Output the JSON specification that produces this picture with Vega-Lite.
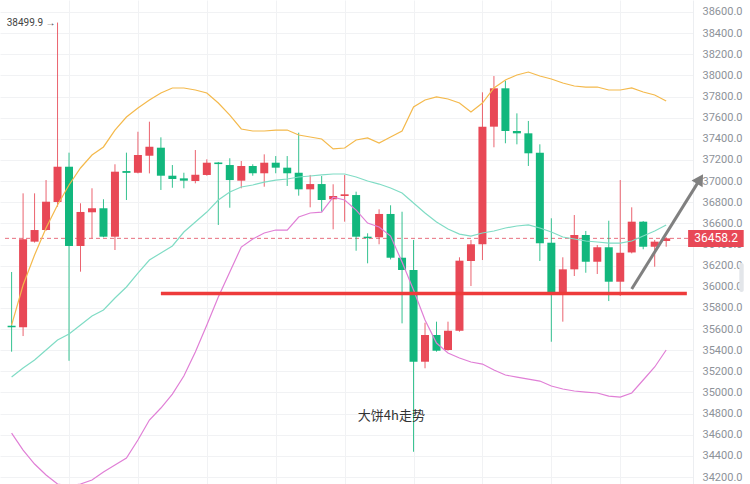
{
 "$schema": "https://vega.github.io/schema/vega-lite/v6.json",
 "width": 693,
 "height": 484,
 "padding": 0,
 "background": "white",
 "config": {"view": {"stroke": null}, "font": "Roboto"},
 "data": {"values": [
  {"i":0,"o":35632,"h":36140,"l":35386,"c":35617,"up":35638,"mid":35146,"lo":34616},
  {"i":1,"o":35617,"h":36884,"l":35534,"c":36449,"up":36017,"mid":35231,"lo":34455},
  {"i":2,"o":36427,"h":36884,"l":36418,"c":36537,"up":36301,"mid":35307,"lo":34323},
  {"i":3,"o":36537,"h":37010,"l":36530,"c":36805,"up":36556,"mid":35402,"lo":34219},
  {"i":4,"o":36802,"h":38499.9,"l":36758,"c":37136,"up":36774,"mid":35496,"lo":34134},
  {"i":5,"o":37136,"h":37269,"l":35300,"c":36386,"up":36963,"mid":35553,"lo":34115},
  {"i":6,"o":36386,"h":36790,"l":36143,"c":36708,"up":37124,"mid":35638,"lo":34134},
  {"i":7,"o":36705,"h":36932,"l":36459,"c":36743,"up":37247,"mid":35723,"lo":34172},
  {"i":8,"o":36743,"h":36828,"l":36468,"c":36474,"up":37323,"mid":35780,"lo":34247},
  {"i":9,"o":36474,"h":37159,"l":36348,"c":37089,"up":37483,"mid":35894,"lo":34314},
  {"i":10,"o":37095,"h":37269,"l":36821,"c":37078,"up":37606,"mid":35998,"lo":34380},
  {"i":11,"o":37079,"h":37467,"l":37073,"c":37247,"up":37692,"mid":36130,"lo":34550},
  {"i":12,"o":37240,"h":37562,"l":37073,"c":37325,"up":37767,"mid":36253,"lo":34739},
  {"i":13,"o":37316,"h":37414,"l":36916,"c":37051,"up":37834,"mid":36320,"lo":34853},
  {"i":14,"o":37051,"h":37152,"l":36937,"c":37020,"up":37881,"mid":36386,"lo":34985},
  {"i":15,"o":37026,"h":37079,"l":36932,"c":37004,"up":37881,"mid":36518,"lo":35156},
  {"i":16,"o":37001,"h":37294,"l":36979,"c":37060,"up":37862,"mid":36613,"lo":35383},
  {"i":17,"o":37058,"h":37206,"l":37051,"c":37174,"up":37834,"mid":36707,"lo":35638},
  {"i":18,"o":37176,"h":37181,"l":36585,"c":37161,"up":37739,"mid":36821,"lo":35903},
  {"i":19,"o":37152,"h":37216,"l":36748,"c":37010,"up":37625,"mid":36897,"lo":36140},
  {"i":20,"o":37004,"h":37190,"l":36932,"c":37143,"up":37493,"mid":36944,"lo":36376},
  {"i":21,"o":37143,"h":37159,"l":37051,"c":37074,"up":37474,"mid":36963,"lo":36452},
  {"i":22,"o":37074,"h":37253,"l":36947,"c":37174,"up":37474,"mid":36991,"lo":36509},
  {"i":23,"o":37174,"h":37237,"l":37074,"c":37127,"up":37483,"mid":37010,"lo":36537},
  {"i":24,"o":37127,"h":37237,"l":36954,"c":37074,"up":37483,"mid":37020,"lo":36537},
  {"i":25,"o":37079,"h":37458,"l":36862,"c":36922,"up":37436,"mid":37039,"lo":36660},
  {"i":26,"o":36922,"h":37058,"l":36752,"c":36972,"up":37417,"mid":37048,"lo":36698},
  {"i":27,"o":36972,"h":37048,"l":36710,"c":36821,"up":37398,"mid":37058,"lo":36707},
  {"i":28,"o":36828,"h":36970,"l":36544,"c":36859,"up":37304,"mid":37067,"lo":36849},
  {"i":29,"o":36859,"h":37058,"l":36616,"c":36875,"up":37313,"mid":37067,"lo":36821},
  {"i":30,"o":36868,"h":36900,"l":36341,"c":36474,"up":37389,"mid":37039,"lo":36726},
  {"i":31,"o":36474,"h":36506,"l":36222,"c":36460,"up":37408,"mid":37001,"lo":36603},
  {"i":32,"o":36468,"h":36733,"l":36402,"c":36689,"up":37360,"mid":36972,"lo":36566},
  {"i":33,"o":36689,"h":36771,"l":36259,"c":36275,"up":37417,"mid":36935,"lo":36480},
  {"i":34,"o":36275,"h":36710,"l":35654,"c":36159,"up":37474,"mid":36887,"lo":36234},
  {"i":35,"o":36159,"h":36443,"l":34439,"c":35291,"up":37701,"mid":36793,"lo":35969},
  {"i":36,"o":35291,"h":35660,"l":35229,"c":35544,"up":37767,"mid":36698,"lo":35686},
  {"i":37,"o":35544,"h":35670,"l":35386,"c":35395,"up":37796,"mid":36613,"lo":35468},
  {"i":38,"o":35402,"h":35670,"l":35395,"c":35584,"up":37777,"mid":36547,"lo":35373},
  {"i":39,"o":35584,"h":36279,"l":35575,"c":36247,"up":37739,"mid":36499,"lo":35326},
  {"i":40,"o":36244,"h":36443,"l":36007,"c":36402,"up":37654,"mid":36480,"lo":35288},
  {"i":41,"o":36402,"h":37840,"l":36253,"c":37515,"up":37739,"mid":36509,"lo":35269},
  {"i":42,"o":37515,"h":37994,"l":37320,"c":37878,"up":37881,"mid":36528,"lo":35212},
  {"i":43,"o":37878,"h":37950,"l":37358,"c":37474,"up":37957,"mid":36556,"lo":35165},
  {"i":44,"o":37474,"h":37641,"l":37348,"c":37452,"up":38004,"mid":36575,"lo":35146},
  {"i":45,"o":37452,"h":37569,"l":37143,"c":37263,"up":38032,"mid":36585,"lo":35127},
  {"i":46,"o":37269,"h":37348,"l":36244,"c":36411,"up":37994,"mid":36556,"lo":35108},
  {"i":47,"o":36417,"h":36648,"l":35480,"c":35948,"up":37966,"mid":36518,"lo":35061},
  {"i":48,"o":35948,"h":36279,"l":35670,"c":36165,"up":37928,"mid":36471,"lo":35033},
  {"i":49,"o":36165,"h":36679,"l":36102,"c":36490,"up":37900,"mid":36452,"lo":35014},
  {"i":50,"o":36490,"h":36528,"l":36133,"c":36237,"up":37890,"mid":36433,"lo":35004},
  {"i":51,"o":36237,"h":36395,"l":36121,"c":36374,"up":37890,"mid":36424,"lo":34995},
  {"i":52,"o":36374,"h":36625,"l":35865,"c":36048,"up":37862,"mid":36414,"lo":34966},
  {"i":53,"o":36048,"h":37010,"l":35913,"c":36322,"up":37862,"mid":36414,"lo":34957},
  {"i":54,"o":36325,"h":36752,"l":36316,"c":36616,"up":37881,"mid":36433,"lo":34995},
  {"i":55,"o":36616,"h":36622,"l":36355,"c":36379,"up":37843,"mid":36480,"lo":35118},
  {"i":56,"o":36379,"h":36443,"l":36190,"c":36427,"up":37815,"mid":36528,"lo":35241},
  {"i":57,"o":36433,"h":36468,"l":36379,"c":36458.2,"up":37758,"mid":36585,"lo":35402}
 ]},
 "layer": [
  {
   "data": {"values": [{"p": 36458.2}]},
   "mark": {"type": "rule", "color": "#e8707f", "strokeWidth": 1, "strokeDash": [4, 3]},
   "encoding": {
    "x": {"datum": -0.575, "type": "quantitative", "scale": {"domain": [-0.575, 58.9], "nice": false, "zero": false}, "axis": {"values": [5, 11, 17, 23, 29, 35, 41, 47, 53], "tickCount": 30, "labels": false, "ticks": false, "domain": false, "grid": true, "gridColor": "#f1f2f4", "title": null}},
    "x2": {"datum": 58.9},
    "y": {"field": "p", "type": "quantitative", "scale": {"domain": [34134, 38713.5], "nice": false, "zero": false}, "axis": {"orient": "right", "values": [34200, 34400, 34600, 34800, 35000, 35200, 35400, 35600, 35800, 36000, 36200, 36400, 36600, 36800, 37000, 37200, 37400, 37600, 37800, 38000, 38200, 38400, 38600], "tickCount": 40, "format": ".1f", "labelColor": "#8d9299", "labelFontSize": 11, "labelFont": "Roboto", "labelOverlap": false, "labelFlush": false, "ticks": false, "tickSize": 0, "labelPadding": 9, "domain": true, "domainColor": "#eceef1", "grid": true, "gridColor": "#f1f2f4", "title": null}}
   }
  },
  {
   "mark": {"type": "rule", "strokeWidth": 1, "opacity": 0.85},
   "encoding": {
    "x": {"field": "i", "type": "quantitative"},
    "y": {"field": "l", "type": "quantitative"},
    "y2": {"field": "h"},
    "color": {"condition": {"test": "datum.c >= datum.o", "value": "#e84856"}, "value": "#12b77d"}
   }
  },
  {
   "mark": {"type": "bar", "size": 8},
   "encoding": {
    "x": {"field": "i", "type": "quantitative"},
    "y": {"field": "o", "type": "quantitative"},
    "y2": {"field": "c"},
    "color": {"condition": {"test": "datum.c >= datum.o", "value": "#e84856"}, "value": "#12b77d"}
   }
  },
  {
   "mark": {"type": "line", "stroke": "#f4b94c", "strokeWidth": 1.2, "clip": true},
   "encoding": {"x": {"field": "i", "type": "quantitative"}, "y": {"field": "up", "type": "quantitative"}}
  },
  {
   "mark": {"type": "line", "stroke": "#80dcc5", "strokeWidth": 1.2, "clip": true},
   "encoding": {"x": {"field": "i", "type": "quantitative"}, "y": {"field": "mid", "type": "quantitative"}}
  },
  {
   "mark": {"type": "line", "stroke": "#e07fd6", "strokeWidth": 1.2, "clip": true},
   "encoding": {"x": {"field": "i", "type": "quantitative"}, "y": {"field": "lo", "type": "quantitative"}}
  },
  {
   "data": {"values": [{"x1": 13.0, "x2": 58.8, "p": 35936}]},
   "mark": {"type": "rule", "color": "#ee3b3b", "strokeWidth": 3.5},
   "encoding": {"x": {"field": "x1", "type": "quantitative"}, "x2": {"field": "x2"}, "y": {"field": "p", "type": "quantitative"}}
  },
  {
   "data": {"values": [{"x": 54.0, "p": 35979}, {"x": 59.95, "p": 37019}]},
   "mark": {"type": "line", "stroke": "#808080", "strokeWidth": 3},
   "encoding": {"x": {"field": "x", "type": "quantitative"}, "y": {"field": "p", "type": "quantitative"}}
  },
  {
   "data": {"values": [{"x": 59.95, "p": 37019}]},
   "mark": {"type": "point", "shape": "triangle-up", "filled": true, "size": 170, "angle": 32, "color": "#808080", "opacity": 1},
   "encoding": {"x": {"field": "x", "type": "quantitative"}, "y": {"field": "p", "type": "quantitative"}}
  },
  {
   "data": {"values": [{"x1": 58.91, "x2": 63.75, "p1": 36537, "p2": 36376}]},
   "mark": {"type": "rect", "color": "#e84856"},
   "encoding": {"x": {"field": "x1", "type": "quantitative"}, "x2": {"field": "x2"}, "y": {"field": "p1", "type": "quantitative"}, "y2": {"field": "p2"}}
  },
  {
   "data": {"values": [{"x": 61.35, "p": 36458.2, "t": "36458.2"}]},
   "mark": {"type": "text", "color": "white", "fontSize": 12, "font": "Roboto", "align": "center", "baseline": "middle"},
   "encoding": {"x": {"field": "x", "type": "quantitative"}, "y": {"field": "p", "type": "quantitative"}, "text": {"field": "t"}}
  },
  {
   "data": {"values": [{"x1": 63.37, "x2": 63.75, "p1": 36225, "p2": 35950}]},
   "mark": {"type": "rect", "color": "#e3e6ea", "cornerRadius": 2},
   "encoding": {"x": {"field": "x1", "type": "quantitative"}, "x2": {"field": "x2"}, "y": {"field": "p1", "type": "quantitative"}, "y2": {"field": "p2"}}
  },
  {
   "data": {"values": [{"x": 4, "p": 38493, "t": "38499.9 →"}]},
   "mark": {"type": "text", "color": "#444444", "fontSize": 10, "font": "Roboto", "align": "right", "baseline": "middle", "dx": -2},
   "encoding": {"x": {"field": "x", "type": "quantitative"}, "y": {"field": "p", "type": "quantitative"}, "text": {"field": "t"}}
  },
  {
   "data": {"values": [{"x": 33.07, "p": 34777, "t": "大饼4h走势"}]},
   "mark": {"type": "text", "color": "#333333", "fontSize": 13, "font": "Noto Sans CJK SC", "align": "center", "baseline": "middle"},
   "encoding": {"x": {"field": "x", "type": "quantitative"}, "y": {"field": "p", "type": "quantitative"}, "text": {"field": "t"}}
  }
 ]
}
